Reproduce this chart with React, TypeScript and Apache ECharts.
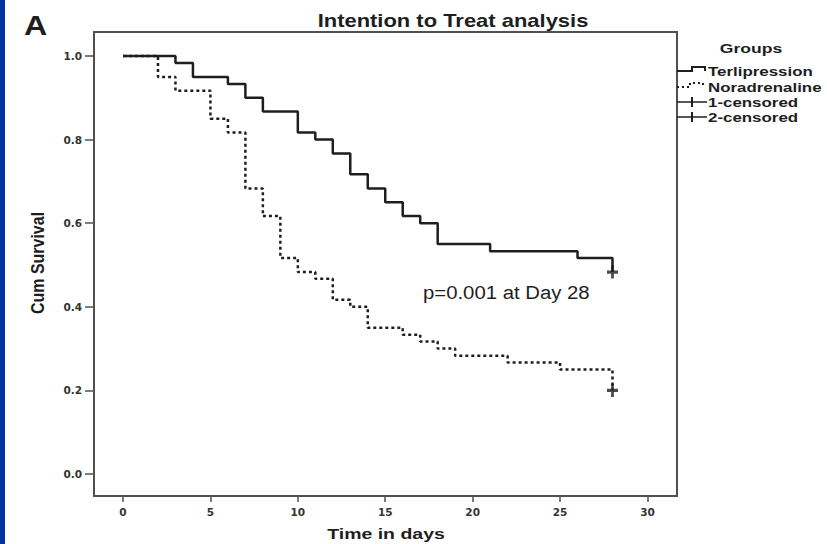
import React, { useEffect, useRef } from "react";
import * as echarts from "echarts";

// Kaplan-Meier steps (day, cumulative survival)
const terliDays = [0, 3, 4, 6, 7, 8, 10, 11, 12, 13, 14, 15, 16, 17, 18, 21, 26, 28];
const terliSurv = [1.0, 0.983, 0.95, 0.933, 0.9, 0.867, 0.817, 0.8, 0.767, 0.717, 0.683, 0.65, 0.617, 0.6, 0.55, 0.533, 0.517, 0.483];

const noraDays = [0, 2, 3, 5, 6, 7, 8, 9, 10, 11, 12, 13, 14, 16, 17, 18, 19, 22, 25, 28];
const noraSurv = [1.0, 0.95, 0.917, 0.85, 0.817, 0.683, 0.617, 0.517, 0.483, 0.467, 0.417, 0.4, 0.35, 0.333, 0.317, 0.3, 0.283, 0.267, 0.25, 0.2];

// censored observations
const terliCensorDays = [28];
const terliCensorSurv = [0.483];
const noraCensorDays = [28];
const noraCensorSurv = [0.2];

const xTicks = [0, 5, 10, 15, 20, 25, 30];
const yTicks = [0, 0.2, 0.4, 0.6, 0.8, 1.0];

const groupNames = ["Terlipression", "Noradrenaline", "1-censored", "2-censored"];

const INK = "#1e1e1e";
const FRAME = "#505050";
const FONT = "Liberation Sans, Arial, sans-serif";
const PLUS = "path://M4.5,0H7.5V4.5H12V7.5H7.5V12H4.5V7.5H0V4.5H4.5Z";

const zip = (a: number[], b: number[]) => a.map((v, i) => [v, b[i]]);

function txt(
  text: string,
  x: number,
  y: number,
  size: number,
  weight: string,
  align: string,
  sx = 1,
  extra: any = {}
) {
  return {
    type: "text",
    x,
    y,
    scaleX: sx,
    silent: true,
    ...extra,
    style: {
      text,
      fill: INK,
      fontFamily: FONT,
      fontSize: size,
      fontWeight: weight,
      textAlign: align,
      align,
      textVerticalAlign: "middle",
      verticalAlign: "middle",
    },
  };
}

export default function App() {
  const ref = useRef<HTMLDivElement>(null);

  useEffect(() => {
    if (!ref.current) return;
    const chart = echarts.init(ref.current, null, { renderer: "svg" });

    const legendX = 677;
    const legendText = 708;
    const rows = [71, 87, 102, 117];

    const option: any = {
      animation: false,
      backgroundColor: "#ffffff",
      grid: {
        left: 94,
        right: 150,
        top: 32,
        bottom: 48,
        show: true,
        borderColor: FRAME,
        borderWidth: 2,
        backgroundColor: "transparent",
      },
      xAxis: {
        type: "value",
        min: -1.66,
        max: 31.69,
        splitLine: { show: false },
        axisLine: { show: true, onZero: false, lineStyle: { color: FRAME, width: 2 } },
        axisTick: {
          show: true,
          length: 6,
          customValues: xTicks,
          lineStyle: { color: FRAME, width: 1.5 },
        },
        axisLabel: {
          customValues: xTicks,
          margin: 10,
          color: "#333",
          fontFamily: "DejaVu Sans",
          fontWeight: "bold",
          fontSize: 10.5,
        },
      },
      yAxis: {
        type: "value",
        min: -0.0526,
        max: 1.0574,
        splitLine: { show: false },
        axisLine: { show: true, onZero: false, lineStyle: { color: FRAME, width: 2 } },
        axisTick: {
          show: true,
          length: 9,
          customValues: yTicks,
          lineStyle: { color: FRAME, width: 1.5 },
        },
        axisLabel: {
          customValues: yTicks,
          margin: 12,
          color: "#333",
          fontFamily: "DejaVu Sans",
          fontWeight: "bold",
          fontSize: 10.5,
          formatter: (v: number) => v.toFixed(1),
        },
      },
      series: [
        {
          name: groupNames[0],
          type: "line",
          step: "end",
          showSymbol: false,
          data: zip(terliDays, terliSurv),
          lineStyle: { color: INK, width: 2.5 },
          z: 3,
        },
        {
          name: groupNames[1],
          type: "line",
          step: "end",
          showSymbol: false,
          data: zip(noraDays, noraSurv),
          lineStyle: { color: INK, width: 2.5, type: [3, 3] },
          z: 3,
        },
        {
          name: groupNames[2],
          type: "scatter",
          symbol: PLUS,
          symbolSize: [11, 13],
          data: zip(terliCensorDays, terliCensorSurv),
          itemStyle: { color: INK },
          z: 4,
        },
        {
          name: groupNames[3],
          type: "scatter",
          symbol: PLUS,
          symbolSize: [11, 13],
          data: zip(noraCensorDays, noraCensorSurv),
          itemStyle: { color: INK },
          z: 4,
        },
      ],
      graphic: [
        {
          type: "rect",
          shape: { x: 0, y: 0, width: 5, height: 544 },
          style: { fill: "#0332a3" },
          silent: true,
        },
        txt("A", 24, 25, 28, "bold", "left", 1.15),
        txt("Intention to Treat analysis", 453, 21, 18, "bold", "center", 1.22),
        txt("p=0.001 at Day 28", 423, 293, 18, "normal", "left", 1.13, {}),
        txt("Cum Survival", 37, 263, 16, "bold", "center", 1, {
          rotation: Math.PI / 2,
          scaleY: 1.2,
        }),
        txt("Time in days", 386, 534, 15, "bold", "center", 1.3),
        txt("Groups", 751, 48, 13.5, "bold", "center", 1.3),
        // legend samples
        {
          type: "polyline",
          shape: {
            points: [
              [legendX, rows[0]],
              [692, rows[0]],
              [692, rows[0] - 4],
              [705, rows[0] - 4],
              [705, rows[0]],
            ],
          },
          style: { stroke: INK, lineWidth: 2, fill: null },
          silent: true,
        },
        {
          type: "polyline",
          shape: {
            points: [
              [legendX, rows[1]],
              [690, rows[1]],
              [690, rows[1] - 4],
              [703, rows[1] - 4],
              [703, rows[1]],
            ],
          },
          style: { stroke: INK, lineWidth: 2, lineDash: [2, 3], fill: null },
          silent: true,
        },
        ...[rows[2], rows[3]].flatMap((ry) => [
          {
            type: "line",
            shape: { x1: legendX, y1: ry, x2: 707, y2: ry },
            style: { stroke: INK, lineWidth: 1.5 },
            silent: true,
          },
          {
            type: "line",
            shape: { x1: 692, y1: ry - 5, x2: 692, y2: ry + 5 },
            style: { stroke: INK, lineWidth: 2 },
            silent: true,
          },
        ]),
        ...groupNames.map((g, i) => txt(g, legendText, rows[i], 13, "bold", "left", 1.3)),
      ],
    };

    chart.setOption(option);
    return () => chart.dispose();
  }, []);

  return (
    <div
      ref={ref}
      style={{ position: "absolute", left: 0, top: 0, width: 827, height: 544, background: "#fff" }}
    />
  );
}
